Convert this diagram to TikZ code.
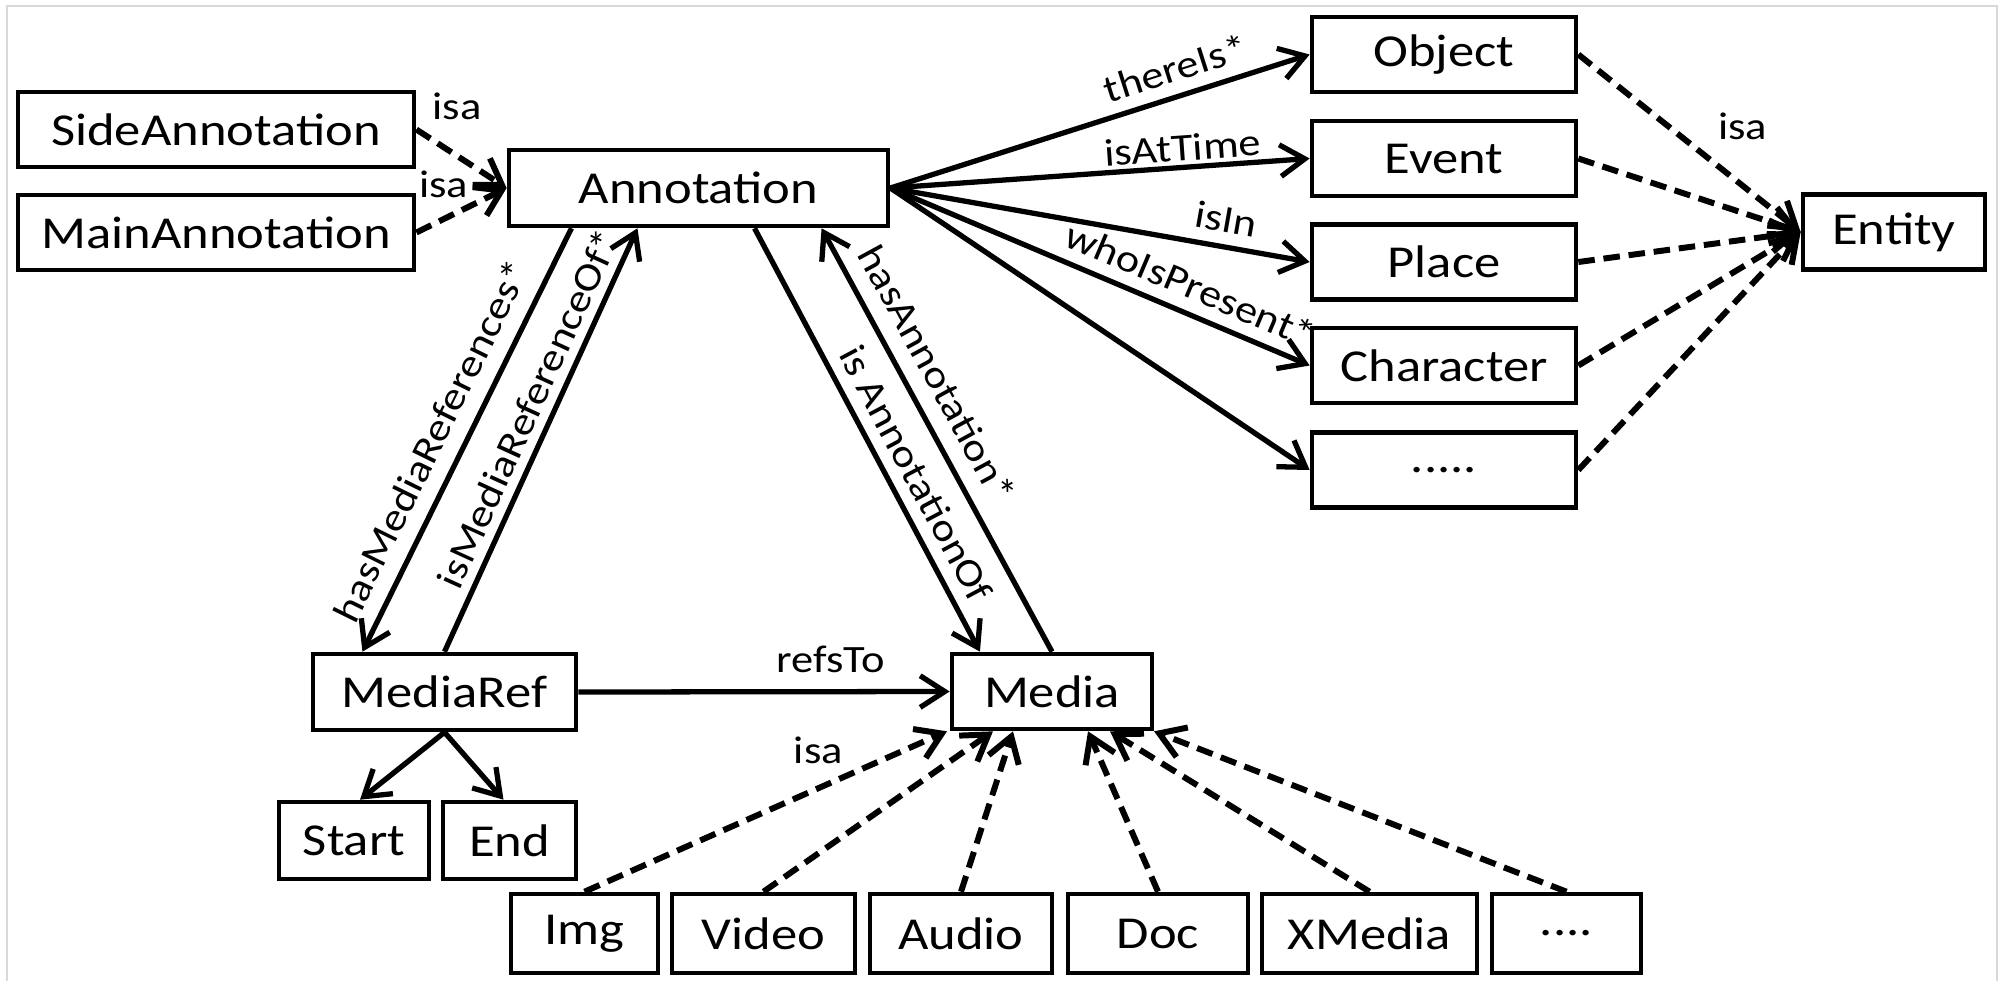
\documentclass[tikz,border=0pt]{standalone}
\usepackage{fontspec}
\setmainfont{Carlito}[FakeStretch=1.15]
\usetikzlibrary{arrows.meta}

\begin{document}
\begin{tikzpicture}[x=0.01cm, y=-0.01cm,
  box/.style={draw, line width=1.3pt, inner sep=0pt, minimum height=0.75cm, font=\fontsize{13}{15}\selectfont},
  lbl/.style={inner sep=1pt, font=\fontsize{11}{13}\selectfont},
  rel/.style={line width=1.5pt, -{Straight Barb[length=7pt,width=9pt]}},
  isa/.style={rel, line width=1.7pt, dash pattern=on 4.7pt off 2.5pt}]
  \useasboundingbox (0,0) rectangle (2002,981);
  \draw[gray!30, line width=0.6pt] (7,981) -- (7,6) -- (1997,6) -- (1997,981);

  % 注释
  \node[box, minimum width=3.96cm] (side) at (216,129.5) {SideAnnotation};
  \node[box, minimum width=3.96cm] (main) at (216,232.5) {MainAnnotation};
  \node[box, minimum width=3.79cm, minimum height=0.76cm] (anno) at (698.5,188) {Annotation};

  % 实体
  \node[box, minimum width=2.64cm] (obj)   at (1444,54.5)  {Object};
  \node[box, minimum width=2.64cm] (evt)   at (1444,158.5) {Event};
  \node[box, minimum width=2.64cm] (place) at (1444,262)   {Place};
  \node[box, minimum width=2.64cm] (char)  at (1444,365.5) {Character};
  \node[box, minimum width=2.64cm] (more)  at (1444,470)   {.....};
  \node[box, minimum width=1.82cm] (ent)   at (1894,232)   {Entity};

  % 媒体
  \node[box, minimum width=2.63cm, minimum height=0.76cm] (mref) at (444.5,692) {MediaRef};
  \node[box, minimum width=2.00cm] (media) at (1052,691.5) {Media};
  \node[box, minimum width=1.50cm, minimum height=0.77cm] (start) at (354,840.5)  {Start};
  \node[box, minimum width=1.33cm, minimum height=0.77cm] (stop)  at (509.5,840.5) {End};

  \node[box, minimum width=1.47cm, minimum height=0.79cm] (img)    at (584.5,933.5)  {Img};
  \node[box, minimum width=1.83cm, minimum height=0.79cm] (video)  at (763.5,933.5)  {Video};
  \node[box, minimum width=1.82cm, minimum height=0.79cm] (audio)  at (961,933.5)    {Audio};
  \node[box, minimum width=1.80cm, minimum height=0.79cm] (doc)    at (1158,933.5)   {Doc};
  \node[box, minimum width=2.15cm, minimum height=0.79cm] (xmedia) at (1369.5,933.5) {XMedia};
  \node[box, minimum width=1.49cm, minimum height=0.79cm] (etc)    at (1566.5,933.5) {....};

  \draw[isa] (side.east) -- node[lbl, pos=0.45, above=0.3cm] {isa} (anno.west);
  \draw[isa] (main.east) -- node[lbl, pos=0.3, above=0.15cm] {isa} (anno.west);

  \draw[rel] (anno.east) -- node[lbl, sloped, pos=0.7, above=0.08cm] {thereIs*} (obj.west);
  \draw[rel] (anno.east) -- node[lbl, sloped, pos=0.7, above] {isAtTime} (evt.west);
  \draw[rel] (anno.east) -- node[lbl, sloped, pos=0.79, above=0.08cm] {isIn} (place.west);
  \draw[rel] (anno.east) -- node[lbl, sloped, pos=0.69, above=0.08cm] {whoIsPresent*} (char.west);
  \draw[rel] (anno.east) -- (more.west);

  \draw[isa] (obj.east) -- node[lbl, pos=0.6, anchor=south west, yshift=0.15cm] {isa} (ent.west);
  \draw[isa] (evt.east) -- (ent.west);
  \draw[isa] (place.east) -- (ent.west);
  \draw[isa] (char.east) -- (ent.west);
  \draw[isa] (more.east) -- (ent.west);

  \draw[rel] ([xshift=-1.27cm]anno.south) -- node[lbl, sloped, pos=0.535, above=0.12cm] {hasMediaReferences*} ([xshift=-0.82cm]mref.north);
  \draw[rel] (mref.north) -- node[lbl, sloped, pos=0.55, above=0.05cm] {isMediaReferenceOf*} ([xshift=-0.61cm]anno.south);
  \draw[rel] ([xshift=0.56cm]anno.south) -- node[lbl, sloped, pos=0.61, above=0.08cm] {is AnnotationOf} ([xshift=-0.72cm]media.north);
  \draw[rel] (media.north) -- node[lbl, sloped, pos=0.62, above=0.12cm] {hasAnnotation*} ([xshift=1.23cm]anno.south);

  \draw[rel] (mref.east) -- node[lbl, pos=0.68, above=0.13cm] {refsTo} (media.west);
  \draw[rel] (mref.south) -- ([xshift=0.06cm]start.north);
  \draw[rel] (mref.south) -- ([xshift=-0.06cm]stop.north);

  \draw[isa] (img.north) -- node[lbl, pos=0.645, above=0.18cm] {isa} ([xshift=-1.05cm]media.south);
  \draw[isa] (video.north) -- ([xshift=-0.59cm]media.south);
  \draw[isa] (audio.north) -- ([xshift=-0.39cm]media.south);
  \draw[isa] (doc.north) -- ([xshift=0.36cm]media.south);
  \draw[isa] (xmedia.north) -- ([xshift=0.58cm]media.south);
  \draw[isa] (etc.north) -- ([xshift=1.02cm]media.south);
\end{tikzpicture}
\end{document}
